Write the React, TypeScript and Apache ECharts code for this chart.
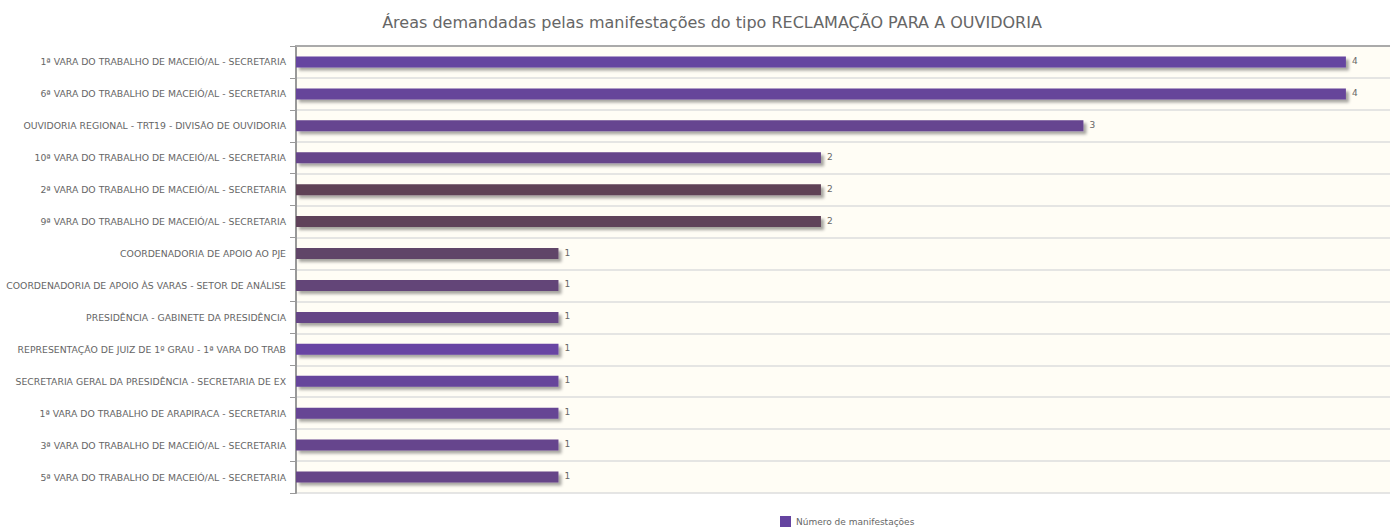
import React, { useEffect, useRef } from "react";
import * as echarts from "echarts";

const titleText = "Áreas demandadas pelas manifestações do tipo RECLAMAÇÃO PARA A OUVIDORIA";
const seriesName = "Número de manifestações";

const categories = [
  "1ª VARA DO TRABALHO DE MACEIÓ/AL - SECRETARIA",
  "6ª VARA DO TRABALHO DE MACEIÓ/AL - SECRETARIA",
  "OUVIDORIA REGIONAL - TRT19 - DIVISÃO DE OUVIDORIA",
  "10ª VARA DO TRABALHO DE MACEIÓ/AL - SECRETARIA",
  "2ª VARA DO TRABALHO DE MACEIÓ/AL - SECRETARIA",
  "9ª VARA DO TRABALHO DE MACEIÓ/AL - SECRETARIA",
  "COORDENADORIA DE APOIO AO PJE",
  "COORDENADORIA DE APOIO ÀS VARAS - SETOR DE ANÁLISE",
  "PRESIDÊNCIA - GABINETE DA PRESIDÊNCIA",
  "REPRESENTAÇÃO DE JUIZ DE 1º GRAU - 1ª VARA DO TRAB",
  "SECRETARIA GERAL DA PRESIDÊNCIA - SECRETARIA DE EX",
  "1ª VARA DO TRABALHO DE ARAPIRACA - SECRETARIA",
  "3ª VARA DO TRABALHO DE MACEIÓ/AL - SECRETARIA",
  "5ª VARA DO TRABALHO DE MACEIÓ/AL - SECRETARIA",
];

const values = [4, 4, 3, 2, 2, 2, 1, 1, 1, 1, 1, 1, 1, 1];

const barColors = [
  "#6544a0",
  "#66449a",
  "#664590",
  "#66458a",
  "#5f4257",
  "#5f425a",
  "#614467",
  "#634578",
  "#654586",
  "#6745a3",
  "#66459b",
  "#664594",
  "#66458d",
  "#664588",
];

const AXIS_MAX = 4.168;
const FONT = "DejaVu Sans";

export default function App() {
  const ref = useRef<HTMLDivElement>(null);

  useEffect(() => {
    if (!ref.current) return;
    const chart = echarts.init(ref.current, undefined, { renderer: "svg" });
    chart.setOption({
      animation: false,
      backgroundColor: "#ffffff",
      textStyle: { fontFamily: FONT },
      title: {
        text: titleText,
        left: 707,
        top: 9,
        textAlign: "center",
        textStyle: { fontFamily: FONT, fontSize: 16, fontWeight: "normal", color: "#666666" },
      },
      legend: {
        data: [seriesName],
        left: 780,
        top: 516,
        itemWidth: 11,
        itemHeight: 11,
        itemGap: 4,
        icon: "rect",
        textStyle: { fontFamily: FONT, fontSize: 9, color: "#666666", padding: [0, 0, 0, 0] },
        padding: 0,
      },
      grid: {
        left: 296,
        right: 0,
        top: 46,
        bottom: 37,
        show: true,
        backgroundColor: "#fffdf5",
        borderWidth: 0,
        containLabel: false,
      },
      xAxis: [
        {
          type: "value",
          position: "bottom",
          min: 0,
          max: AXIS_MAX,
          axisLabel: { show: false },
          axisTick: { show: false },
          splitLine: { show: false },
          axisLine: {
            show: true,
            lineStyle: {
              color: "#999999",
              width: 2,
              shadowColor: "rgba(0,0,0,0.25)",
              shadowOffsetY: 2,
              shadowBlur: 2,
            },
          },
        },
        {
          type: "value",
          position: "top",
          min: 0,
          max: AXIS_MAX,
          axisLabel: { show: false },
          axisTick: { show: false },
          splitLine: { show: false },
          axisLine: { show: true, lineStyle: { color: "#aaaaaa", width: 2 } },
        },
      ],
      yAxis: {
        type: "category",
        inverse: true,
        data: categories,
        axisLine: { show: true, lineStyle: { color: "#999999", width: 2 } },
        axisTick: { show: true, length: 6, lineStyle: { color: "#999999", width: 1 } },
        splitLine: { show: true, lineStyle: { color: "#dddddd", width: 1.5 } },
        axisLabel: {
          margin: 10,
          fontFamily: FONT,
          fontSize: 9.3,
          color: "#666666",
        },
      },
      series: [
        {
          name: seriesName,
          type: "bar",
          xAxisIndex: 0,
          barWidth: 11,
          itemStyle: {
            color: barColors[0],
            shadowColor: "rgba(0,0,0,0.35)",
            shadowOffsetX: 3,
            shadowOffsetY: 3,
            shadowBlur: 3,
          },
          label: {
            show: true,
            position: "right",
            distance: 6,
            offset: [0, -1],
            fontFamily: FONT,
            fontSize: 9,
            color: "#666666",
          },
          data: values.map((v, i) => ({
            value: v,
            itemStyle: { color: barColors[i] },
          })),
        },
      ],
    });
    return () => chart.dispose();
  }, []);

  return (
    <div
      ref={ref}
      style={{ position: "fixed", left: 0, top: 0, width: 1390, height: 530 }}
    />
  );
}
